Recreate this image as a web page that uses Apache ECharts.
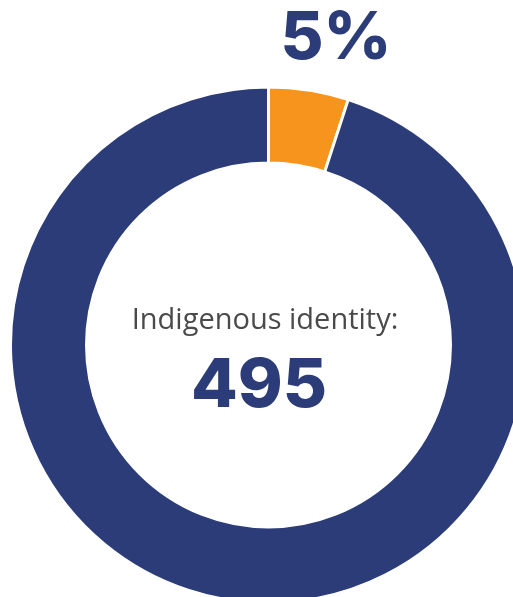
<!DOCTYPE html>
<html>
<head>
<meta charset="utf-8">
<script src="https://cdn.jsdelivr.net/npm/echarts@6/dist/echarts.min.js"></script>
<style>
  html, body { margin: 0; padding: 0; background: #fff; }
  #chart { width: 513px; height: 597px; }
</style>
</head>
<body>
<div id="chart"></div>
<script>
// 数据
var categories = ["Indigenous", "Non-Indigenous"];
var shares = [5, 95];
var colors = ["#f7941d", "#2b3c78"];
var centerTitle = "Indigenous identity:";
var centerCount = 495;

var total = shares.reduce(function (a, b) { return a + b; }, 0);
var pctLabel = Math.round(shares[0] / total * 100) + "%";

var myChart = echarts.init(document.getElementById("chart"));
var option = {
  animation: false,
  graphic: [
    {
      type: "text",
      x: 336,
      y: 39,
      style: {
        text: pctLabel,
        font: "800 66px Inter, Lato, sans-serif",
        fill: "#2b3c78",
        align: "center",
        verticalAlign: "middle"
      }
    },
    {
      type: "text",
      x: 265,
      y: 321,
      style: {
        text: centerTitle,
        font: "400 29px 'Open Sans', Lato, sans-serif",
        fill: "#4a4a4a",
        align: "center",
        verticalAlign: "middle"
      }
    },
    {
      type: "text",
      x: 259,
      y: 387,
      style: {
        text: String(centerCount),
        font: "800 68px Inter, Lato, sans-serif",
        fill: "#2b3c78",
        align: "center",
        verticalAlign: "middle"
      }
    }
  ],
  series: [
    {
      type: "pie",
      center: [268.5, 345],
      radius: [182, 258],
      startAngle: 90,
      clockwise: true,
      silent: true,
      label: { show: false },
      labelLine: { show: false },
      itemStyle: {
        borderColor: "#fff",
        borderWidth: 3
      },
      data: categories.map(function (name, i) {
        return { name: name, value: shares[i], itemStyle: { color: colors[i] } };
      })
    }
  ]
};
myChart.setOption(option);
</script>
</body>
</html>
